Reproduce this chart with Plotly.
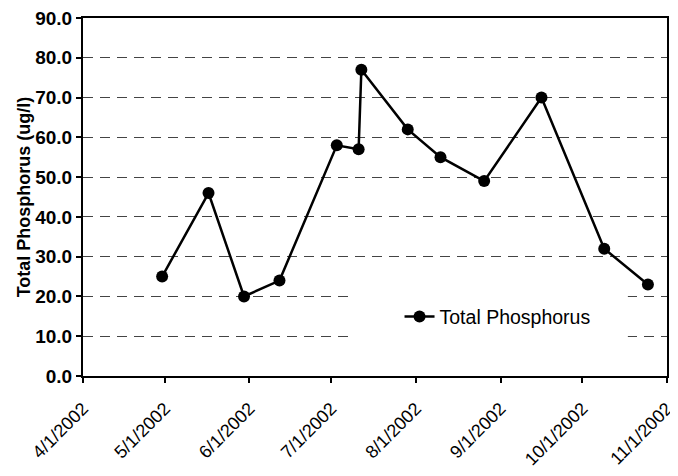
import plotly.graph_objects as go

# ======= Total Phosphorus, 2002 sampling season ============

sample_dates = ["2002-04-30", "2002-05-17", "2002-05-30", "2002-06-12",
                "2002-07-03", "2002-07-11", "2002-07-12", "2002-07-29",
                "2002-08-10", "2002-08-26", "2002-09-16", "2002-10-09",
                "2002-10-25"]
total_phosphorus = [25, 46, 20, 24, 58, 57, 77, 62, 55, 49, 70, 32, 23]

month_ticks = ["2002-04-01", "2002-05-01", "2002-06-01", "2002-07-01",
               "2002-08-01", "2002-09-01", "2002-10-01", "2002-11-01"]
month_labels = ["4/1/2002", "5/1/2002", "6/1/2002", "7/1/2002",
                "8/1/2002", "9/1/2002", "10/1/2002", "11/1/2002"]
y_ticks = [0, 10, 20, 30, 40, 50, 60, 70, 80, 90]

font_family = "Liberation Sans, Arial, sans-serif"

fig = go.Figure()
fig.add_trace(go.Scatter(
    x=sample_dates,
    y=total_phosphorus,
    mode="lines+markers",
    name="Total Phosphorus",
    line=dict(color="black", width=2.5),
    marker=dict(color="black", size=12),
))

# white patch behind the legend so the gridlines break there (like Excel)
fig.add_shape(type="rect", xref="paper", yref="y",
              x0=0.458, x1=0.933, y0=5, y1=24,
              fillcolor="white", line_width=0, layer="above")

# page body has an 8px margin, so the figure is 8px smaller than the window
fig.update_layout(
    width=670,
    height=468,
    margin=dict(l=75, r=11, t=10, b=100),
    plot_bgcolor="white",
    paper_bgcolor="white",
    font=dict(family=font_family, color="black"),
    showlegend=True,
    legend=dict(x=0.542, y=0.165, xanchor="left", yanchor="middle",
                bgcolor="rgba(0,0,0,0)", font=dict(size=19.5)),
    xaxis=dict(
        type="date",
        range=["2002-04-01", "2002-11-01"],
        tickvals=month_ticks,
        ticktext=month_labels,
        tickangle=-45,
        tickfont=dict(size=18),
        ticks="outside", ticklen=5, tickcolor="black", tickwidth=1.5,
        ticklabelstandoff=8,
        showline=True, linecolor="black", linewidth=2, mirror=True,
        showgrid=False, zeroline=False, automargin=False,
        ticklabeloverflow="allow",
    ),
    yaxis=dict(
        range=[0, 90],
        tickvals=y_ticks,
        tickformat=".1f",
        tickfont=dict(size=19, family=font_family, weight="bold"),
        ticks="outside", ticklen=5, tickcolor="black", tickwidth=1.5,
        showline=True, linecolor="black", linewidth=2, mirror=True,
        showgrid=True, gridcolor="#444444", gridwidth=1,
        griddash="10px,7px",
        zeroline=False, automargin=False,
        ticklabeloverflow="allow",
        title=dict(text="<b>Total Phosphorus (ug/l)</b>",
                   font=dict(size=18), standoff=0),
    ),
)

fig.write_html("out.html")
